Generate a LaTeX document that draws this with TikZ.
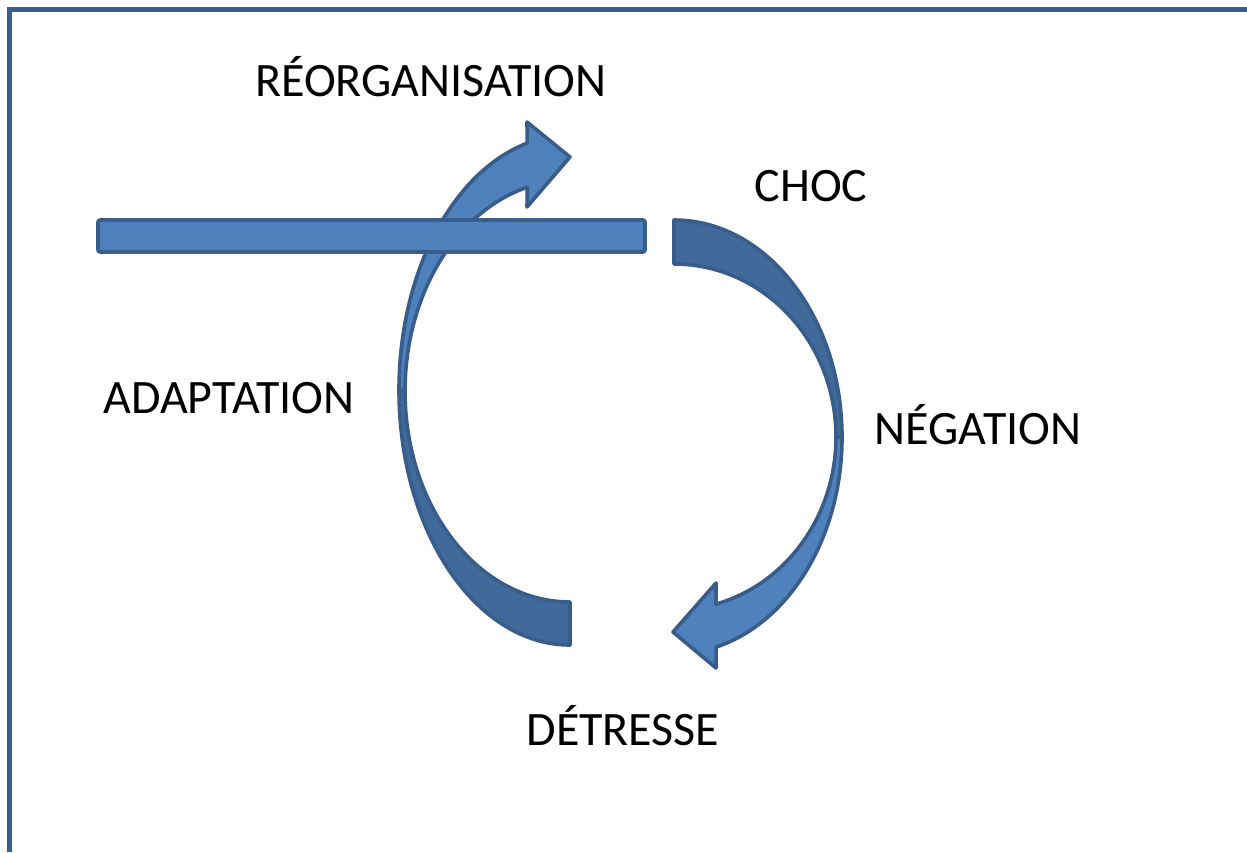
\documentclass[tikz,border=0pt]{standalone}
\usepackage{fontspec}
\setmainfont{Carlito}
\definecolor{lightfill}{HTML}{4F81BD}
\definecolor{darkfill}{HTML}{41699A}
\definecolor{edgecol}{HTML}{385D8A}
\definecolor{framecol}{HTML}{3B5F8D}
\begin{document}
\begin{tikzpicture}[x=1pt,y=-1pt,
  lbl/.style={font=\fontsize{48}{56}\selectfont, inner sep=0pt, anchor=base},
  frontpart/.style={fill=lightfill, draw=edgecol, line width=3.6pt, line join=round},
  backpart/.style={fill=darkfill, draw=edgecol, line width=3.6pt, line join=round}]
\useasboundingbox (0,0) rectangle (1247,852);
\fill[white] (0,0) rectangle (1247,852);
% frame
\draw[framecol, line width=5pt, line join=miter] (1247,9) -- (9,9) -- (9,852);

% right curved arrow (CHOC -> DETRESSE)
\draw[backpart] (674,220) arc[start angle=-90, end angle=0, x radius=168, y radius=217]
  -- (836,437) arc[start angle=0, end angle=-90, x radius=162, y radius=173] -- cycle;
\draw[frontpart] (836,437) arc[start angle=0, end angle=75, x radius=162, y radius=173]
  -- (716,583) -- (673,632) -- (716,668) -- (716.1,647.1)
  arc[start angle=75.5, end angle=0, x radius=168, y radius=217] -- cycle;

% left curved arrow (DETRESSE -> REORGANISATION)
\draw[backpart] (570,645) arc[start angle=90, end angle=180, x radius=171, y radius=255]
  -- (405,391) arc[start angle=180, end angle=90, x radius=165, y radius=211] -- cycle;
\draw[frontpart] (399,390) arc[start angle=180, end angle=255.5, x radius=171, y radius=255]
  -- (527,122) -- (570,157) -- (527,207) -- (527.3,187.2)
  arc[start angle=255, end angle=180, x radius=165, y radius=211] -- cycle;

% horizontal bar
\draw[frontpart, rounded corners=2pt] (98,220) rectangle (645,252);

% labels
\node[lbl] (reorg) at (431,96) {RÉORGANISATION};
\node[lbl] (choc) at (811,201) {CHOC};
\node[lbl] (adapt) at (229,413) {ADAPTATION};
\node[lbl] (neg) at (978,444) {NÉGATION};
\node[lbl] (detr) at (623,745) {DÉTRESSE};
\end{tikzpicture}
\end{document}
